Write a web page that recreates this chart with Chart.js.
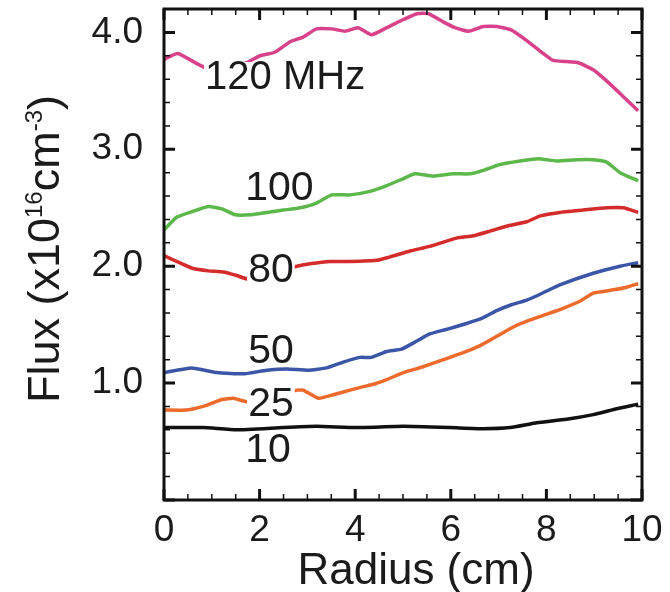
<!DOCTYPE html>
<html>
<head>
<meta charset="utf-8">
<script src="https://cdn.jsdelivr.net/npm/chart.js@4"></script>
<style>
  html,body{margin:0;padding:0;background:#fff;}
  #wrap{width:670px;height:592px;}
</style>
</head>
<body>
<div id="wrap"><canvas id="c" width="670" height="592"></canvas></div>
<script>
// radius (cm) and flux (x10^16 cm^-3), one pair per frequency
const r120 = [0, 0.29, 0.86, 1.66, 2.01, 2.32, 2.64, 2.91, 3.19, 3.51, 3.79, 4.06, 4.34, 4.66, 5.01, 5.29, 5.53, 5.84, 6.09, 6.37, 6.68, 6.96, 7.27, 7.59, 7.87, 8.14, 8.42, 8.67, 8.98, 9.30, 9.61, 9.92];
const f120 = [3.77, 3.82, 3.70, 3.73, 3.80, 3.83, 3.92, 3.96, 4.03, 4.03, 4.01, 4.04, 3.98, 4.04, 4.11, 4.16, 4.16, 4.09, 4.04, 4.01, 4.05, 4.05, 4.02, 3.93, 3.84, 3.76, 3.75, 3.74, 3.68, 3.57, 3.45, 3.33];

const r100 = [0, 0.27, 0.61, 0.93, 1.21, 1.49, 1.80, 2.15, 2.50, 2.85, 3.19, 3.51, 3.89, 4.31, 4.66, 5.01, 5.25, 5.63, 6.05, 6.40, 6.68, 7.03, 7.45, 7.83, 8.21, 8.63, 8.98, 9.26, 9.54, 9.92];
const f100 = [2.31, 2.42, 2.47, 2.51, 2.49, 2.44, 2.44, 2.46, 2.48, 2.50, 2.54, 2.61, 2.61, 2.64, 2.69, 2.75, 2.79, 2.77, 2.79, 2.79, 2.82, 2.87, 2.90, 2.92, 2.90, 2.91, 2.91, 2.89, 2.80, 2.73];

const r80 = [0, 0.27, 0.61, 0.93, 1.24, 1.52, 1.76, 2.78, 3.05, 3.47, 3.89, 4.45, 4.73, 5.15, 5.56, 6.12, 6.47, 6.82, 7.24, 7.59, 7.87, 8.28, 8.77, 9.26, 9.61, 9.92];
const f80 = [2.09, 2.04, 1.98, 1.96, 1.95, 1.92, 1.89, 2.00, 2.02, 2.04, 2.04, 2.05, 2.08, 2.13, 2.17, 2.24, 2.26, 2.30, 2.35, 2.38, 2.43, 2.46, 2.48, 2.50, 2.50, 2.46];

const r50 = [0, 0.58, 1.10, 1.69, 2.15, 2.57, 3.02, 3.40, 3.75, 4.10, 4.34, 4.66, 4.97, 5.29, 5.56, 5.91, 6.33, 6.68, 6.96, 7.27, 7.59, 7.87, 8.28, 8.98, 9.54, 9.92];
const f50 = [1.09, 1.13, 1.09, 1.08, 1.11, 1.12, 1.11, 1.13, 1.18, 1.22, 1.22, 1.27, 1.29, 1.36, 1.42, 1.46, 1.51, 1.56, 1.62, 1.67, 1.71, 1.76, 1.84, 1.94, 2.00, 2.03];

const r25 = [0, 0.47, 0.89, 1.21, 1.45, 1.76, 2.78, 2.91, 3.23, 3.54, 3.89, 4.17, 4.38, 4.66, 5.01, 5.42, 5.84, 6.26, 6.61, 6.96, 7.31, 7.66, 8.01, 8.35, 8.70, 8.98, 9.44, 9.68, 9.92];
const f25 = [0.77, 0.77, 0.81, 0.86, 0.87, 0.84, 0.94, 0.94, 0.87, 0.90, 0.94, 0.97, 0.99, 1.03, 1.09, 1.14, 1.20, 1.26, 1.32, 1.40, 1.48, 1.54, 1.59, 1.64, 1.70, 1.77, 1.80, 1.82, 1.85];

const r10 = [0, 0.82, 1.52, 2.50, 3.19, 4.03, 5.01, 5.98, 6.68, 7.24, 7.80, 8.42, 8.98, 9.47, 9.92];
const f10 = [0.62, 0.62, 0.60, 0.62, 0.63, 0.62, 0.63, 0.62, 0.61, 0.62, 0.66, 0.69, 0.73, 0.78, 0.82];

const xTickLabels = [0, 2, 4, 6, 8, 10];
const yTickLabels = [1, 2, 3, 4];

const FONT = "'Liberation Sans', Arial, sans-serif";
const INK = "#1b1b1b";

const series = [
  { r: r120, f: f120, color: "#d8428b" },
  { r: r100, f: f100, color: "#5cb84a" },
  { r: r80,  f: f80,  color: "#d42b2b" },
  { r: r50,  f: f50,  color: "#3b56a6" },
  { r: r25,  f: f25,  color: "#ec6a2c" },
  { r: r10,  f: f10,  color: "#111111" }
];

// in-plot curve names; box = white patch that breaks the line under the text
const tags = [
  { text: "120 MHz", x: 0.86, y: 3.61, box: true, size: 40 },
  { text: "100", x: 1.70, y: 2.66, box: false, size: 41 },
  { text: "80",  x: 1.76, y: 1.96, box: true, size: 41 },
  { text: "50",  x: 1.76, y: 1.27, box: false, size: 41 },
  { text: "25",  x: 1.76, y: 0.815, box: true, size: 41 },
  { text: "10",  x: 1.70, y: 0.42, box: false, size: 41 }
];

const noPad = s => { s.paddingTop = 0; s.paddingBottom = 0; s.paddingLeft = 0; s.paddingRight = 0; };

const decor = {
  id: "decor",
  afterDatasetsDraw(chart){
    const { ctx, scales: { x, y } } = chart;
    ctx.save();
    ctx.textBaseline = "middle";
    tags.forEach(t => {
      ctx.font = `${t.size}px ${FONT}`;
      const px = x.getPixelForValue(t.x), py = y.getPixelForValue(t.y);
      if(t.box){
        const w = ctx.measureText(t.text).width;
        ctx.fillStyle = "#fff";
        ctx.fillRect(px - 1, py - 16, w + 2, 33);
      }
      ctx.fillStyle = INK;
      ctx.fillText(t.text, px, py);
    });
    ctx.restore();
  },
  afterDraw(chart){
    const { ctx, chartArea: a, scales: { x, y } } = chart;
    ctx.save();
    ctx.strokeStyle = "#111";
    ctx.lineCap = "butt";
    // inward ticks, minor every 0.5 cm / 0.2 units
    for(let i = 0; i <= 20; i++){
      const px = x.getPixelForValue(i * 0.5);
      const major = i % 4 === 0;
      const len = major ? 11 : 6;
      ctx.lineWidth = major ? 3 : 1.5;
      ctx.beginPath();
      ctx.moveTo(px, a.bottom); ctx.lineTo(px, a.bottom - len);
      ctx.moveTo(px, a.top); ctx.lineTo(px, a.top + len);
      ctx.stroke();
    }
    for(let i = 0; i <= 21; i++){
      const py = y.getPixelForValue(i * 0.2);
      const major = i % 5 === 0;
      const len = major ? 11 : 6;
      ctx.lineWidth = major ? 3 : 1.5;
      ctx.beginPath();
      ctx.moveTo(a.left, py); ctx.lineTo(a.left + len, py);
      ctx.moveTo(a.right, py); ctx.lineTo(a.right - len, py);
      ctx.stroke();
    }
    ctx.lineWidth = 3;
    ctx.strokeRect(a.left, a.top, a.right - a.left, a.bottom - a.top);

    // axis titles
    ctx.fillStyle = INK;
    ctx.font = `44px ${FONT}`;
    ctx.textAlign = "center";
    ctx.textBaseline = "alphabetic";
    ctx.fillText("Radius (cm)", 416, 584);

    const big = 45, small = 24;
    const parts = [["Flux (x10", big, 0], ["16", small, -17], ["cm", big, 0], ["-3", small, -17], [")", big, 0]];
    let total = 0;
    parts.forEach(p => { ctx.font = `${p[1]}px ${FONT}`; p.push(ctx.measureText(p[0]).width); total += p[3]; });
    ctx.translate(59, 249);
    ctx.rotate(-Math.PI / 2);
    ctx.textAlign = "left";
    let cx = -total / 2;
    parts.forEach(p => { ctx.font = `${p[1]}px ${FONT}`; ctx.fillText(p[0], cx, p[2]); cx += p[3]; });
    ctx.restore();
  }
};

new Chart(document.getElementById("c"), {
  type: "line",
  data: {
    datasets: series.map(s => ({
      data: s.r.map((r, i) => ({ x: r, y: s.f[i] })),
      borderColor: s.color,
      borderWidth: 3.5,
      pointRadius: 0,
      tension: 0.15,
      fill: false
    }))
  },
  options: {
    responsive: false,
    animation: false,
    events: [],
    layout: { padding: { top: 9, right: 28, left: 0, bottom: 0 } },
    plugins: { legend: { display: false }, tooltip: { enabled: false } },
    scales: {
      x: {
        type: "linear", min: 0, max: 10,
        grid: { display: false }, border: { display: false },
        afterBuildTicks: s => { s.ticks = xTickLabels.map(v => ({ value: v })); },
        afterFit: s => { s.height = 92; noPad(s); },
        ticks: { color: INK, font: { family: FONT, size: 37 }, padding: 1, maxRotation: 0, autoSkip: false, callback: v => String(v) }
      },
      y: {
        type: "linear", min: 0, max: 4.2,
        grid: { display: false }, border: { display: false },
        afterBuildTicks: s => { s.ticks = yTickLabels.map(v => ({ value: v })); },
        afterFit: s => { s.width = 164; noPad(s); },
        ticks: { color: INK, font: { family: FONT, size: 37 }, padding: 13, autoSkip: false, callback: v => v.toFixed(1) }
      }
    }
  },
  plugins: [decor]
});
</script>
</body>
</html>
